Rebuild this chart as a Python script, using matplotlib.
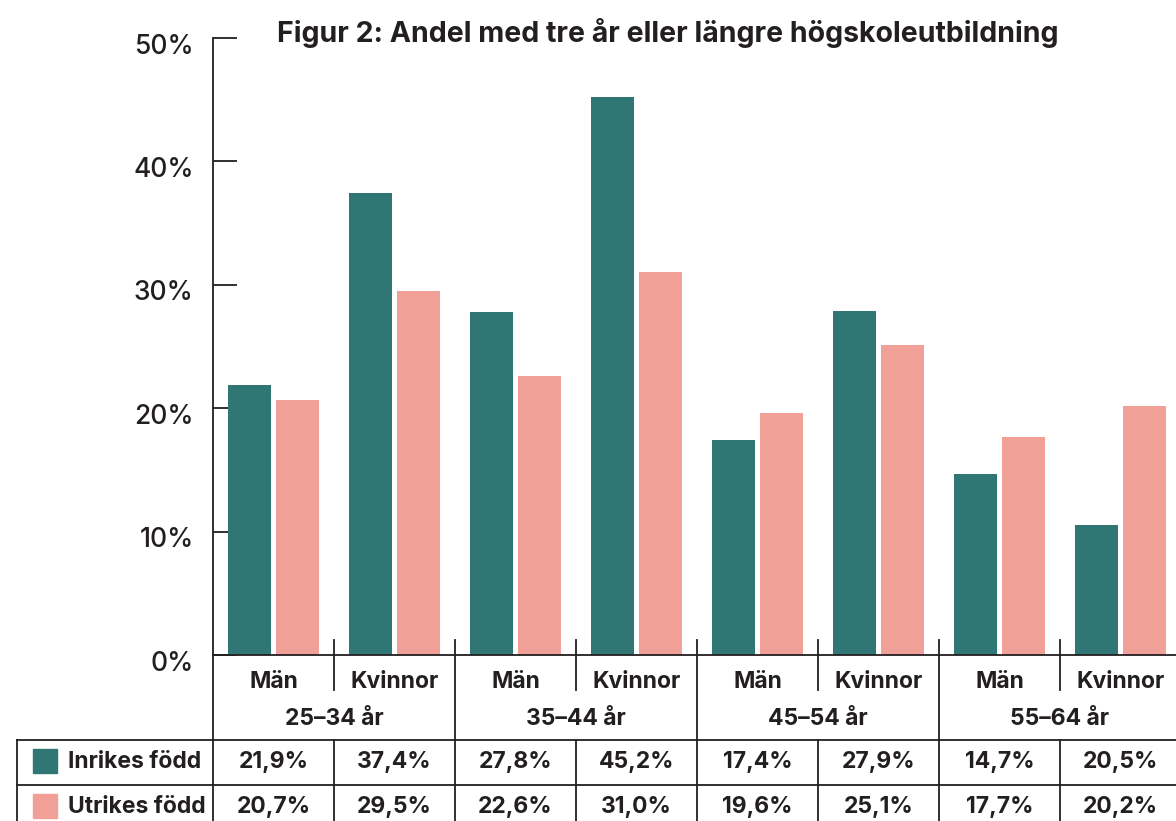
import matplotlib.pyplot as plt
from matplotlib.patches import Rectangle
from matplotlib.transforms import blended_transform_factory, ScaledTranslation

plt.rcParams['font.family'] = ['Inter', 'DejaVu Sans']

# data
age_groups = ['25–34 år', '35–44 år', '45–54 år', '55–64 år']
sexes = ['Män', 'Kvinnor']
inrikes = [21.9, 37.4, 27.8, 45.2, 17.4, 27.9, 14.7, 10.5]
utrikes = [20.7, 29.5, 22.6, 31.0, 19.6, 25.1, 17.7, 20.2]
inrikes_txt = ['21,9%', '37,4%', '27,8%', '45,2%', '17,4%', '27,9%', '14,7%', '20,5%']
utrikes_txt = ['20,7%', '29,5%', '22,6%', '31,0%', '19,6%', '25,1%', '17,7%', '20,2%']
series_names = ['Inrikes född', 'Utrikes född']
yticks = [0, 10, 20, 30, 40, 50]

teal = '#2f7674'
pink = '#f0a097'
ink = '#231f20'

W, H = 1176, 821
fig = plt.figure(figsize=(W / 100, H / 100), dpi=100)


def fy(py):
    return 1 - py / H


def fx(px):
    return px / W


ax = fig.add_axes([fx(213), fy(655), fx(1181) - fx(213), fy(38) - fy(655)])
n = len(inrikes)
centers = [i + 0.5 for i in range(n)]
ax.bar([c - 0.198 for c in centers], inrikes, width=0.36, color=teal, zorder=2)
ax.bar([c + 0.198 for c in centers], utrikes, width=0.36, color=pink, zorder=2)
ax.set_xlim(0, n)
ax.set_ylim(0, 50)

ax.set_yticks(yticks)
ax.set_yticklabels([f'{t}%' for t in yticks], fontsize=19, color=ink, fontweight='medium')
ax.tick_params(axis='y', direction='in', length=17, width=1.3, color=ink, pad=14)
shift = ScaledTranslation(0, -4 / 72, fig.dpi_scale_trans)
for lab in ax.get_yticklabels():
    lab.set_transform(lab.get_transform() + shift)
ax.set_xticks([])
for s in ['top', 'right']:
    ax.spines[s].set_visible(False)
for s in ['left', 'bottom']:
    ax.spines[s].set_color(ink)
    ax.spines[s].set_linewidth(1.3)

fig.text(fx(668), fy(33), 'Figur 2: Andel med tre år eller längre högskoleutbildning',
         ha='center', va='center', fontsize=20.5, fontweight='bold', color=ink)

# lines and text under the axis: x in data units, y in figure pixels
tr = blended_transform_factory(ax.transData, fig.transFigure)
lw = 1.3
for i in range(n + 1):
    if i == 0:
        ax.plot([0, 0], [fy(655), 0], transform=tr, color=ink, lw=lw, clip_on=False)
    elif i % 2 == 0:
        ax.plot([i, i], [fy(640), 0], transform=tr, color=ink, lw=lw, clip_on=False)
    else:
        ax.plot([i, i], [fy(640), fy(690)], transform=tr, color=ink, lw=lw, clip_on=False)
        ax.plot([i, i], [fy(740), 0], transform=tr, color=ink, lw=lw, clip_on=False)

# table borders
for py in [740, 785]:
    fig.add_artist(plt.Line2D([fx(17), 1], [fy(py), fy(py)], color=ink, lw=lw))
fig.add_artist(plt.Line2D([fx(17), fx(17)], [fy(740), 0], color=ink, lw=lw))

fs = 16.5
for i, c in enumerate(centers):
    ax.text(c, fy(682), sexes[i % 2], transform=tr, ha='center', va='center',
            fontsize=fs, fontweight='bold', color=ink, clip_on=False)
    ax.text(c, fy(762), inrikes_txt[i], transform=tr, ha='center', va='center',
            fontsize=fs, fontweight='bold', color=ink, clip_on=False)
    ax.text(c, fy(807), utrikes_txt[i], transform=tr, ha='center', va='center',
            fontsize=fs, fontweight='bold', color=ink, clip_on=False)
for j, g in enumerate(age_groups):
    ax.text(2 * j + 1, fy(719), g, transform=tr, ha='center', va='center',
            fontsize=fs, fontweight='bold', color=ink, clip_on=False)

# legend in the table
for k, (name, col, py) in enumerate(zip(series_names, [teal, pink], [761, 806])):
    fig.add_artist(Rectangle((fx(33), fy(py + 12)), fx(24), 24 / H, color=col,
                             transform=fig.transFigure))
    fig.text(fx(68), fy(py + 1), name, ha='left', va='center', fontsize=fs,
             fontweight='bold', color=ink)

fig.savefig('out.png', dpi=100)
